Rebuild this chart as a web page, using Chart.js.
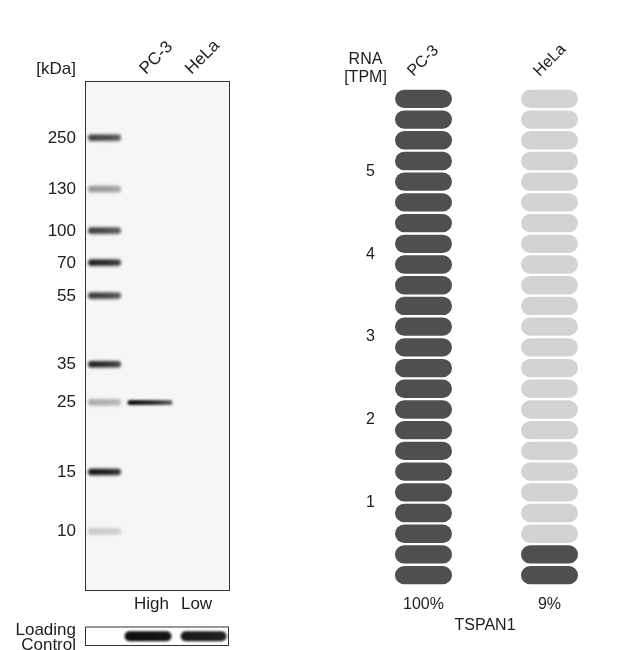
<!DOCTYPE html>
<html><head><meta charset="utf-8">
<script src="https://cdn.jsdelivr.net/npm/chart.js@4/dist/chart.umd.min.js"></script>
<style>
html,body{margin:0;padding:0;background:#fff;width:640px;height:650px;overflow:hidden;}
.box{position:absolute;}
canvas{display:block;}
</style></head><body>
<div class="box" style="left:0;top:0;width:240px;height:615px"><canvas id="blot" width="240" height="615"></canvas></div>
<div class="box" style="left:0;top:615px;width:240px;height:35px"><canvas id="lc" width="240" height="35"></canvas></div>
<div class="box" style="left:330px;top:0;width:310px;height:650px"><canvas id="rna" width="310" height="650"></canvas></div>
<script>
// ---------- data ----------
const lanes = ['Ladder', 'PC-3', 'HeLa'];
const ladderKDa = [250, 130, 100, 70, 55, 35, 25, 15, 10];
const ladderMigration = [0.110, 0.211, 0.293, 0.356, 0.421, 0.556, 0.631, 0.768, 0.885];
const ladderIntensity = [0.8, 0.42, 0.8, 0.95, 0.82, 0.92, 0.33, 1.0, 0.2];
const sampleBandLane = ['PC-3'];
const sampleBandMigration = [0.631];
const sampleBandIntensity = [1.0];
const loadingLevels = ['High', 'Low'];
const loadingLanes = ['PC-3', 'HeLa'];
const loadingIntensity = [1.0, 0.95];
const rnaCells = ['PC-3', 'HeLa'];
const rnaTPM = [6.0, 0.54];
const rnaPercent = ['100%', '9%'];
const rnaTicks = [1, 2, 3, 4, 5];
const geneName = 'TSPAN1';

// ---------- style ----------
const FONT = '"Liberation Sans", Arial, Helvetica, sans-serif';
const TEXT = '#1c1c1c';
const DARK = '#4f4f4f';
const LIGHT = '#d3d3d3';
Chart.defaults.font.family = FONT;
Chart.defaults.font.size = 16;
Chart.defaults.color = TEXT;
Chart.defaults.animation = false;
Chart.defaults.events = [];
Chart.defaults.plugins.legend.display = false;
Chart.defaults.plugins.tooltip.enabled = false;

function bandSprite(w, h, alpha, blur, fade) {
  const pad = Math.ceil(blur * 3) + 2;
  const c = document.createElement('canvas');
  c.width = w + 2 * pad; c.height = Math.ceil(h + 2 * pad);
  const g = c.getContext('2d');
  g.filter = 'blur(' + blur + 'px)';
  const grad = g.createLinearGradient(pad, 0, pad + w, 0);
  grad.addColorStop(0, 'rgba(12,12,12,' + alpha + ')');
  grad.addColorStop(0.6, 'rgba(12,12,12,' + (alpha * (1 - fade * 0.4)) + ')');
  grad.addColorStop(1, 'rgba(12,12,12,' + (alpha * (1 - fade)) + ')');
  g.fillStyle = grad;
  g.beginPath();
  g.roundRect(pad, pad, w, h, h / 2);
  g.fill();
  return c;
}

function txt(ctx, s, x, y, align, rot, size) {
  ctx.save();
  ctx.font = (size || 16) + 'px ' + FONT;
  ctx.fillStyle = TEXT;
  ctx.textBaseline = 'alphabetic';
  ctx.textAlign = align || 'left';
  ctx.translate(x, y);
  if (rot) ctx.rotate(rot);
  ctx.fillText(s, 0, 0);
  ctx.restore();
}

// ---------- western blot ----------
const ladderSprites = ladderIntensity.map(a => bandSprite(33, 6.5, a, 1.8, 0.2));
const sampleSprites = sampleBandIntensity.map(a => bandSprite(45, 5, a, 1.2, 0.4));

const blotDeco = {
  id: 'blotDeco',
  beforeDatasetsDraw(chart) {
    const {ctx, chartArea: a} = chart;
    ctx.save();
    ctx.fillStyle = '#f6f6f6';
    ctx.fillRect(a.left, a.top, a.right - a.left, a.bottom - a.top);
    ctx.restore();
  },
  afterDraw(chart) {
    const {ctx, chartArea: a, scales} = chart;
    ctx.save();
    ctx.strokeStyle = '#333';
    ctx.lineWidth = 1;
    ctx.strokeRect(a.left - 0.5, a.top - 0.5, a.right - a.left + 1, a.bottom - a.top + 1);
    ctx.restore();
    txt(ctx, '[kDa]', 76, 74, 'right', 0, 17);
    for (let i = 1; i < lanes.length; i++) {
      txt(ctx, lanes[i], scales.x.getPixelForValue(i) - 4, 75, 'left', -Math.PI / 4, 17);
    }
    loadingLevels.forEach((s, i) => {
      const px = scales.x.getPixelForValue(i + 1);
      txt(ctx, s, px + (i === 0 ? 1.5 : 1), 609, 'center', 0, 17);
    });
  }
};

new Chart(document.getElementById('blot'), {
  type: 'scatter',
  data: {
    datasets: [
      {
        data: ladderMigration.map(m => ({x: lanes.indexOf('Ladder'), y: m})),
        pointStyle: ctx => ladderSprites[ctx.dataIndex],
        pointRadius: 1, clip: 0
      },
      {
        data: sampleBandMigration.map((m, i) => ({x: lanes.indexOf(sampleBandLane[i]), y: m})),
        pointStyle: ctx => sampleSprites[ctx.dataIndex],
        pointRadius: 1, clip: 0
      }
    ]
  },
  options: {
    responsive: false,
    devicePixelRatio: 1,
    layout: {padding: {top: 82, bottom: 25, left: 0, right: 11}},
    scales: {
      x: {type: 'linear', min: -0.407, max: 2.736, display: false},
      y: {
        type: 'linear', min: 0, max: 1, reverse: true,
        grid: {display: false, drawTicks: false},
        border: {display: false},
        afterBuildTicks: s => { s.ticks = ladderMigration.map(v => ({value: v})); },
        afterFit: s => { s.width = 86; },
        ticks: {
          autoSkip: false, padding: 10, color: TEXT, font: {size: 17},
          callback: (v, i) => String(ladderKDa[i])
        }
      }
    }
  },
  plugins: [blotDeco]
});

// ---------- loading control ----------
const lcSprites = loadingIntensity.map((a, i) => bandSprite(i === 0 ? 47 : 46, 10, a, 1.0, 0.05));
const lcDeco = {
  id: 'lcDeco',
  beforeDatasetsDraw(chart) {
    const {ctx, chartArea: a} = chart;
    ctx.save();
    ctx.fillStyle = '#fff';
    ctx.fillRect(a.left, a.top, a.right - a.left, a.bottom - a.top);
    ctx.restore();
  },
  afterDraw(chart) {
    const {ctx, chartArea: a} = chart;
    ctx.save();
    ctx.strokeStyle = '#333';
    ctx.lineWidth = 1;
    ctx.strokeRect(a.left - 0.5, a.top - 0.5, a.right - a.left + 1, a.bottom - a.top + 1);
    ctx.restore();
    txt(ctx, 'Loading', 76, 20, 'right', 0, 17);
    txt(ctx, 'Control', 76, 35, 'right', 0, 17);
  }
};
new Chart(document.getElementById('lc'), {
  type: 'scatter',
  data: {
    datasets: [{
      data: loadingLanes.map(l => ({x: lanes.indexOf(l), y: 0.5})),
      pointStyle: ctx => lcSprites[ctx.dataIndex],
      pointRadius: 1, clip: 0
    }]
  },
  options: {
    responsive: false,
    devicePixelRatio: 1,
    layout: {padding: {top: 12.5, bottom: 5, left: 86, right: 12}},
    scales: {
      x: {type: 'linear', min: -0.117, max: 2.44, display: false},
      y: {type: 'linear', min: 0, max: 1, display: false}
    }
  },
  plugins: [lcDeco]
});

// ---------- RNA pills ----------
const rnaMax = 6;
const pillUnit = 0.25;
const nPills = Math.round(rnaMax / pillUnit);
const pillSets = [];
for (let i = 0; i < nPills; i++) {
  pillSets.push({
    data: rnaCells.map(() => [i * pillUnit, (i + 1) * pillUnit]),
    backgroundColor: rnaTPM.map(v => ((i + 0.5) * pillUnit <= v ? DARK : LIGHT)),
    borderColor: '#ffffff',
    borderWidth: 1.2,
    borderRadius: 20,
    borderSkipped: false,
    inflateAmount: 0,
    barThickness: 59.4,
    grouped: false
  });
}
const rnaDeco = {
  id: 'rnaDeco',
  afterDraw(chart) {
    const {ctx, scales} = chart;
    txt(ctx, 'RNA', 35.5, 64, 'center');
    txt(ctx, '[TPM]', 35.5, 81.5, 'center');
    rnaCells.forEach((c, i) => {
      const px = scales.x.getPixelForValue(i);
      txt(ctx, c, px - 10, 77, 'left', -Math.PI / 4);
      txt(ctx, rnaPercent[i], px, 609, 'center');
    });
    const mid = (scales.x.getPixelForValue(0) + scales.x.getPixelForValue(1)) / 2;
    txt(ctx, geneName, mid - 1.5, 630, 'center');
  }
};
new Chart(document.getElementById('rna'), {
  type: 'bar',
  data: {labels: rnaCells, datasets: pillSets},
  options: {
    responsive: false,
    devicePixelRatio: 1,
    layout: {padding: {top: 88.5, bottom: 64.5, left: 0, right: 27.5}},
    scales: {
      x: {display: false},
      y: {
        min: 0, max: rnaMax,
        grid: {display: false, drawTicks: false},
        border: {display: false},
        afterBuildTicks: s => { s.ticks = rnaTicks.map(v => ({value: v})); },
        afterFit: s => { s.width = 30.5; },
        ticks: {mirror: true, padding: 5.5, autoSkip: false, color: TEXT, font: {size: 16}}
      }
    }
  },
  plugins: [rnaDeco]
});
</script>
</body></html>
